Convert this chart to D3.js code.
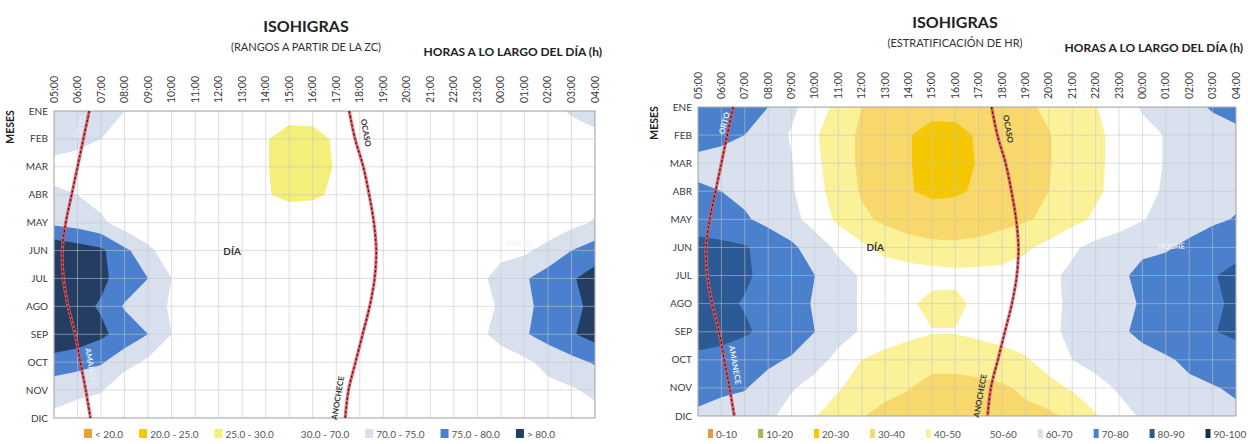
<!DOCTYPE html>
<html lang="es">
<head>
<meta charset="UTF-8">
<title>Isohigras</title>
<script src="https://cdn.jsdelivr.net/npm/d3@7"></script>
<style>
  body { margin: 0; background: #fff; }
  text { font-family: Lato, "Open Sans", sans-serif; }
</style>
</head>
<body>
<svg id="main" width="1248" height="444"></svg>
<script>
// meses (filas) y horas (columnas, de 05:00 a 04:00)
const meses = ['ENE', 'FEB', 'MAR', 'ABR', 'MAY', 'JUN', 'JUL', 'AGO', 'SEP', 'OCT', 'NOV', 'DIC'];
const horas = ['05:00', '06:00', '07:00', '08:00', '09:00', '10:00', '11:00', '12:00', '13:00', '14:00', '15:00', '16:00',
               '17:00', '18:00', '19:00', '20:00', '21:00', '22:00', '23:00', '00:00', '01:00', '02:00', '03:00', '04:00'];

// humedad relativa (%), una fila por mes
const hrENE = [74, 73.5, 72, 70, 62, 55, 47, 40, 36, 34, 33, 33, 34, 35.5, 38, 42, 47, 49.5, 55, 61, 64, 67, 71, 73];
const hrFEB = [73, 72, 70, 66, 59, 51, 45, 38, 34, 30.5, 27, 27.5, 31, 34, 36.5, 39.5, 44, 48, 53, 57, 60.5, 63, 66, 68];
const hrMAR = [68, 67, 66, 64, 60.5, 52, 45, 38, 34, 30.5, 27, 27.5, 30.5, 34, 36.5, 39.5, 44, 48, 53, 57, 60.5, 63, 65, 67];
const hrABR = [71, 70, 68, 65, 61, 53, 46, 39, 34.5, 30.5, 28.5, 29, 31, 34, 37, 40, 44, 48.5, 53, 57.5, 61, 64, 66, 68];
const hrMAY = [74, 73, 71, 67.5, 63, 56, 48, 42, 38, 35.5, 34, 34, 35, 37, 39, 42, 47, 51.5, 55, 59.5, 63, 66, 68.5, 70.5];
const hrJUN = [84, 82.5, 81, 76, 72, 65, 58, 52, 47, 44, 42.5, 42, 43, 45, 48.5, 53, 58.5, 63, 66, 68.5, 69, 72, 75, 77.5];
const hrJUL = [84, 83, 81, 78, 75, 70, 64, 59, 56, 55, 54, 53, 53, 53, 55, 58, 62, 65, 68.5, 72, 74.5, 77, 79.5, 82];
const hrAGO = [83, 81.5, 79.5, 74.5, 72, 69.5, 64, 59, 55, 52, 46.5, 47, 53, 54, 56, 58, 61.5, 65, 68.5, 70.5, 74, 76.5, 79, 81];
const hrSEP = [84, 83, 81, 78, 75, 70, 64, 59, 55, 52.5, 50.5, 50.5, 52, 53.5, 55, 58, 62, 65, 68.5, 72, 74.5, 77, 79.5, 82];
const hrOCT = [78, 77, 75.5, 72, 69, 64, 57, 50, 47, 45, 44, 44, 45, 46.5, 49, 54, 60, 63, 65, 67, 69, 71.5, 73.5, 75.5];
const hrNOV = [72, 71, 70.5, 66, 61, 56, 51, 45, 43, 40.5, 36, 36, 37, 38.5, 42, 47, 51, 57, 61, 64, 66.5, 68.5, 69.5, 71];
const hrDIC = [69, 68, 66, 62, 56, 50.5, 45, 40.5, 37, 35, 33.5, 33, 33.5, 35, 37, 38, 42, 49, 57, 61, 63.5, 65.5, 67, 68.5];
const hr = [hrENE, hrFEB, hrMAR, hrABR, hrMAY, hrJUN, hrJUL, hrAGO, hrSEP, hrOCT, hrNOV, hrDIC];

// salida y puesta del sol (hora decimal) por mes
const orto  = [6.5, 6.25, 6.0, 5.75, 5.5, 5.35, 5.4, 5.6, 5.9, 6.12, 6.35, 6.55];
const ocaso = [17.55, 17.8, 18.15, 18.4, 18.6, 18.7, 18.63, 18.42, 18.12, 17.82, 17.52, 17.38];

// rangos a partir de la zona de confort
const rangosZC = [20, 25, 30, 70, 75, 80];
const coloresZC = ['#e9a23b', '#f2c80f', '#f3ef78', '#ffffff', '#d8e0ee', '#4b80cf', '#233d63'];
const etiquetasZC = ['< 20.0', '20.0 - 25.0', '25.0 - 30.0', '30.0 - 70.0', '70.0 - 75.0', '75.0 - 80.0', '> 80.0'];

// estratificación de HR
const rangosHR = [10, 20, 30, 40, 50, 60, 70, 80, 90];
const coloresHR = ['#e39b3c', '#9bbb59', '#f4c700', '#f8d86a', '#fbf199', '#ffffff', '#d9e1ee', '#4a80cc', '#2c5a94', '#1c2f4d'];
const etiquetasHR = ['0-10', '10-20', '20-30', '30-40', '40-50', '50-60', '60-70', '70-80', '80-90', '90-100'];

const svg = d3.select('#main');
const valores = hr.flat();

const paneles = [
  {id: 'zc', x0: 54, x1: 595, y0: 111, y1: 418, cx: 306, ty: 32, sub: '(RANGOS A PARTIR DE LA ZC)',
   rangos: rangosZC, colores: coloresZC, etiquetas: etiquetasZC,
   leyX: 84, leyGap: 16, sw: 8, noche: [506, 246]},
  {id: 'hr', x0: 698, x1: 1236, y0: 107, y1: 416, cx: 955, ty: 28, sub: '(ESTRATIFICACIÓN DE HR)',
   rangos: rangosHR, colores: coloresHR, etiquetas: etiquetasHR,
   leyX: 708, leyGap: 21, sw: 5, noche: [1158, 249]}
];

paneles.forEach(drawPanel);

function drawPanel(p) {
  const g = svg.append('g');
  const x = d3.scaleLinear().domain([0, horas.length - 1]).range([p.x0, p.x1]);
  const y = d3.scaleLinear().domain([0, meses.length - 1]).range([p.y0, p.y1]);

  // recorte del área de trazado
  g.append('clipPath').attr('id', 'clip-' + p.id)
    .append('rect').attr('x', p.x0).attr('y', p.y0)
    .attr('width', p.x1 - p.x0).attr('height', p.y1 - p.y0);

  const area = g.append('g').attr('clip-path', `url(#clip-${p.id})`);
  area.append('rect').attr('x', p.x0).attr('y', p.y0)
    .attr('width', p.x1 - p.x0).attr('height', p.y1 - p.y0)
    .attr('fill', p.colores[0]);

  // isolíneas: cada muestra de la rejilla está en el centro de su celda
  const proj = d3.geoTransform({
    point: function(px, py) { this.stream.point(x(px - 0.5), y(py - 0.5)); }
  });
  const path = d3.geoPath(proj);
  const bandas = d3.contours().size([horas.length, meses.length]).thresholds(p.rangos)(valores);
  area.selectAll('path.banda').data(bandas).enter().append('path')
    .attr('class', 'banda')
    .attr('d', path)
    .attr('fill', (d, i) => p.colores[i + 1]);

  // rejilla
  area.selectAll('line.v').data(horas).enter().append('line')
    .attr('x1', (d, i) => x(i)).attr('x2', (d, i) => x(i))
    .attr('y1', p.y0).attr('y2', p.y1)
    .attr('stroke', '#c4c4c4').attr('stroke-opacity', 0.55);
  area.selectAll('line.h').data(meses).enter().append('line')
    .attr('y1', (d, i) => y(i)).attr('y2', (d, i) => y(i))
    .attr('x1', p.x0).attr('x2', p.x1)
    .attr('stroke', '#c4c4c4').attr('stroke-opacity', 0.55);

  // marco
  g.append('rect').attr('x', p.x0).attr('y', p.y0)
    .attr('width', p.x1 - p.x0).attr('height', p.y1 - p.y0)
    .attr('fill', 'none').attr('stroke', '#a6a6a6');

  // orto y ocaso
  const linea = d3.line().x(d => x(d - 5)).y((d, i) => y(i)).curve(d3.curveCatmullRom);
  [orto, ocaso].forEach(serie => {
    g.append('path').attr('d', linea(serie)).attr('fill', 'none')
      .attr('stroke', '#e8505c').attr('stroke-width', 3.2).attr('stroke-opacity', 0.85);
    g.append('path').attr('d', linea(serie)).attr('fill', 'none')
      .attr('stroke', '#3b2020').attr('stroke-width', 1.3).attr('stroke-dasharray', '2.5,2');
  });

  const rot = (t, px, py, ang, col, size) => g.append('text').text(t)
    .attr('transform', `translate(${px},${py}) rotate(${ang})`)
    .attr('text-anchor', 'middle').attr('font-size', size || 8)
    .attr('font-weight', 'bold').attr('fill', col);
  rot('OCASO', x(ocaso[1] - 5) + 8, y(0.8), 80, '#333');
  rot('ANOCHECE', x(ocaso[10] - 5) - 8, y(10.3), -80, '#333');
  rot('AMANECE', x(orto[9] - 5) + 8, y(9.2), 80, '#e8eef8');
  rot('ORTO', x(orto[0] - 5) - 6, y(0.6), -75, '#e8eef8');

  g.append('text').text('DÍA').attr('x', x(7.2)).attr('y', y(5) + 4)
    .attr('font-size', 10).attr('font-weight', 'bold').attr('fill', '#333');
  g.append('text').text('NOCHE').attr('x', p.noche[0]).attr('y', p.noche[1])
    .attr('font-size', 7.5).attr('font-weight', 'bold').attr('fill', '#f0f3f8').attr('fill-opacity', 0.85);

  // etiquetas de horas
  g.selectAll('text.hora').data(horas).enter().append('text')
    .attr('class', 'hora').text(d => d)
    .attr('transform', (d, i) => `translate(${x(i) + 3.5},${p.y0 - 8}) rotate(-90)`)
    .attr('font-size', 10.5).attr('fill', '#3a3a3a');

  // etiquetas de meses
  g.selectAll('text.mes').data(meses).enter().append('text')
    .attr('class', 'mes').text(d => d)
    .attr('x', p.x0 - 6).attr('y', (d, i) => y(i)).attr('dy', '0.35em')
    .attr('text-anchor', 'end').attr('font-size', 10).attr('fill', '#3a3a3a');

  g.append('text').text('MESES')
    .attr('transform', `translate(${p.x0 - 40},${p.y0 + 16}) rotate(-90)`)
    .attr('text-anchor', 'middle').attr('font-size', 10.5).attr('font-weight', 'bold').attr('fill', '#222');

  // títulos
  g.append('text').text('ISOHIGRAS').attr('x', p.cx).attr('y', p.ty)
    .attr('text-anchor', 'middle').attr('font-size', 16).attr('font-weight', 'bold').attr('fill', '#222');
  g.append('text').text(p.sub).attr('x', p.cx).attr('y', p.ty + 19)
    .attr('text-anchor', 'middle').attr('font-size', 11).attr('fill', '#333');
  g.append('text').text('HORAS A LO LARGO DEL DÍA (h)').attr('x', p.x1 + 7).attr('y', p.y0 - 55)
    .attr('text-anchor', 'end').attr('font-size', 12).attr('font-weight', 'bold').attr('fill', '#222');

  // leyenda
  let lx = p.leyX;
  p.etiquetas.forEach((t, i) => {
    g.append('rect').attr('x', lx).attr('y', 429).attr('width', p.sw).attr('height', 9)
      .attr('fill', p.colores[i]);
    const tx = g.append('text').text(t).attr('x', lx + p.sw + 3).attr('y', 437.5)
      .attr('font-size', 10).attr('fill', '#555');
    lx += p.sw + 3 + tx.node().getComputedTextLength() + p.leyGap;
  });
}
</script>
</body>
</html>
